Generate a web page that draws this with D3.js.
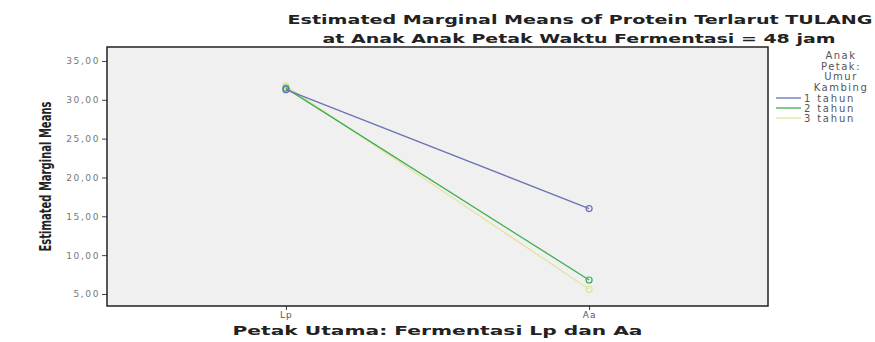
<!DOCTYPE html>
<html>
<head>
<meta charset="utf-8">
<script src="https://cdn.jsdelivr.net/npm/d3@7"></script>
<style>
  body { margin: 0; background: #fff; }
  text { font-family: "DejaVu Sans", Arial, sans-serif; }
</style>
</head>
<body>
<div id="chart"></div>
<script>
// data
const petakUtama = ["Lp", "Aa"];
const umurKambing = ["1 tahun", "2 tahun", "3 tahun"];
const val1 = [31.3, 16.0];
const val2 = [31.5, 6.8];
const val3 = [31.8, 5.6];
const yTicks = [5, 10, 15, 20, 25, 30, 35];
const seriesColors = ["#6a72b8", "#3fae4f", "#e3e3a0"];

const W = 875, H = 342;
const margin = { top: 47, right: 107, bottom: 36, left: 107 };
const width = W - margin.left - margin.right;
const height = H - margin.top - margin.bottom;

const svg = d3.select("#chart").append("svg")
    .attr("width", W)
    .attr("height", H);

const g = svg.append("g")
    .attr("transform", `translate(${margin.left},${margin.top})`);

// scales
const x = d3.scalePoint()
    .domain(petakUtama)
    .range([0, width])
    .padding(0.59);

const y = d3.scaleLinear()
    .domain([3.45, 36.8])
    .range([height, 0]);

// plot background
g.append("rect")
    .attr("width", width)
    .attr("height", height)
    .attr("fill", "#f0f0f0");

// series
const series = [val1, val2, val3].map((vals, i) => ({
    name: umurKambing[i],
    color: seriesColors[i],
    points: petakUtama.map((p, j) => ({ p, v: vals[j] }))
}));

const line = d3.line()
    .x(d => x(d.p))
    .y(d => y(d.v));

// draw 3 first so 1 and 2 sit on top
series.slice().reverse().forEach(s => {
    g.append("path")
        .datum(s.points)
        .attr("d", line)
        .attr("fill", "none")
        .attr("stroke", s.color)
        .attr("stroke-width", 1.3);
    g.selectAll(null)
        .data(s.points)
        .enter()
        .append("circle")
        .attr("cx", d => x(d.p))
        .attr("cy", d => y(d.v))
        .attr("r", 3)
        .attr("fill", "none")
        .attr("stroke", s.color)
        .attr("stroke-width", 1.2);
});

// axes
const yAxis = g.append("g")
    .call(d3.axisLeft(y).tickValues(yTicks).tickSize(5)
        .tickFormat(d => d3.format(".2f")(d).replace(".", ",")));
yAxis.select(".domain").remove();
yAxis.selectAll("line").attr("stroke", "#444");
yAxis.selectAll("text")
    .attr("fill", "#777")
    .style("font-size", "9px")
    .style("letter-spacing", "1.6px")
    .attr("x", -7);

const xAxis = g.append("g")
    .attr("transform", `translate(0,${height})`)
    .call(d3.axisBottom(x).tickSize(4));
xAxis.select(".domain").remove();
xAxis.selectAll("line").attr("stroke", "#333");
xAxis.selectAll("text")
    .attr("fill", "#555")
    .style("font-size", "9px")
    .style("letter-spacing", "1px")
    .attr("y", 6);

// frame
g.append("rect")
    .attr("width", width)
    .attr("height", height)
    .attr("fill", "none")
    .attr("stroke", "#222")
    .attr("stroke-width", 1.5);

// titles
function stretched(sel, len) {
    return sel.attr("textLength", len).attr("lengthAdjust", "spacingAndGlyphs");
}

stretched(svg.append("text")
    .attr("x", 580)
    .attr("y", 24)
    .attr("text-anchor", "middle")
    .style("font-size", "13px")
    .style("font-weight", "bold")
    .attr("fill", "#222")
    .text("Estimated Marginal Means of Protein Terlarut TULANG"), 585);

stretched(svg.append("text")
    .attr("x", 579)
    .attr("y", 43)
    .attr("text-anchor", "middle")
    .style("font-size", "13px")
    .style("font-weight", "bold")
    .attr("fill", "#222")
    .text("at Anak Anak Petak Waktu Fermentasi = 48 jam"), 513);

stretched(svg.append("text")
    .attr("x", margin.left + width / 2)
    .attr("y", 335)
    .attr("text-anchor", "middle")
    .style("font-size", "12px")
    .style("font-weight", "bold")
    .attr("fill", "#222")
    .text("Petak Utama: Fermentasi Lp dan Aa"), 410);

stretched(svg.append("text")
    .attr("transform", `translate(51,${margin.top + height / 2}) rotate(-90)`)
    .attr("text-anchor", "middle")
    .style("font-size", "15px")
    .style("font-weight", "bold")
    .attr("fill", "#222")
    .text("Estimated Marginal Means"), 150);

// legend
const legendTitle = ["Anak", "Petak:", "Umur", "Kambing"];
const lg = svg.append("g");
lg.selectAll("text.lt")
    .data(legendTitle)
    .enter()
    .append("text")
    .attr("class", "lt")
    .attr("x", 841)
    .attr("y", (d, i) => 59 + i * 10.5)
    .attr("text-anchor", "middle")
    .style("font-size", "10px")
    .style("letter-spacing", "1.5px")
    .attr("fill", "#555")
    .text(d => d);

const items = lg.selectAll("g.item")
    .data(series)
    .enter()
    .append("g")
    .attr("transform", (d, i) => `translate(776,${98 + i * 10})`);
items.append("line")
    .attr("x1", 0).attr("x2", 25)
    .attr("stroke", d => d.color)
    .attr("stroke-width", 1.3);
items.append("text")
    .attr("x", 28)
    .attr("y", 3.5)
    .style("font-size", "10px")
    .style("letter-spacing", "1.8px")
    .attr("fill", "#555")
    .text(d => d.name);
</script>
</body>
</html>
